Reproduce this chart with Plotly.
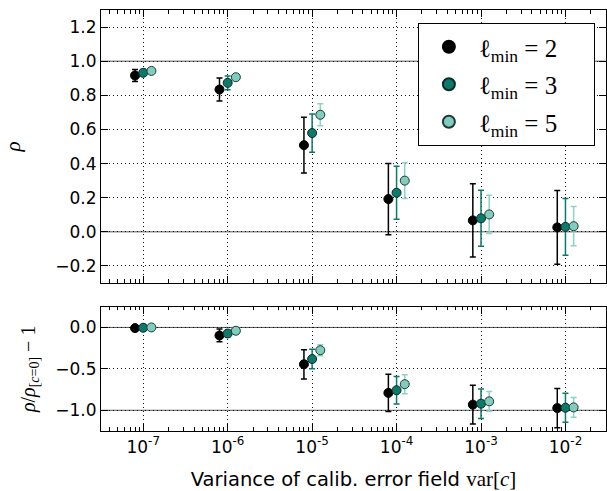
import plotly.graph_objects as go

# ---- data ----
VAR_C = [1e-7, 1e-6, 1e-5, 1e-4, 1e-3, 1e-2]
X_TICK_LABELS = ["10<sup>-7</sup>", "10<sup>-6</sup>", "10<sup>-5</sup>",
                 "10<sup>-4</sup>", "10<sup>-3</sup>", "10<sup>-2</sup>"]
SERIES_NAMES = ["ℓ<sub>min</sub> = 2", "ℓ<sub>min</sub> = 3", "ℓ<sub>min</sub> = 5"]
X_SHIFT = [0.8, 1.0, 1.25]

RHO_L2 = [0.916, 0.834, 0.508, 0.192, 0.067, 0.026]
RHO_L2_ERR = [0.035, 0.067, 0.163, 0.209, 0.215, 0.216]
RHO_L3 = [0.932, 0.873, 0.579, 0.229, 0.079, 0.029]
RHO_L3_ERR = [0.012, 0.040, 0.112, 0.156, 0.164, 0.166]
RHO_L5 = [0.943, 0.906, 0.686, 0.300, 0.102, 0.033]
RHO_L5_ERR = [0.006, 0.012, 0.064, 0.105, 0.112, 0.115]

REL_L2 = [-0.008, -0.097, -0.445, -0.790, -0.932, -0.973]
REL_L2_ERR = [0.010, 0.077, 0.176, 0.225, 0.235, 0.237]
REL_L3 = [-0.004, -0.073, -0.381, -0.758, -0.920, -0.969]
REL_L3_ERR = [0.005, 0.040, 0.118, 0.166, 0.178, 0.176]
REL_L5 = [0.000, -0.040, -0.275, -0.685, -0.892, -0.965]
REL_L5_ERR = [0.003, 0.012, 0.067, 0.115, 0.120, 0.120]

REF_TOP = [0.0, 1.0]
REF_BOTTOM = [0.0, -1.0]

FILL = ["#000000", "#0b7a6a", "#80cdbd"]
ERRC = ["#000000", "#0b7a6a", "#8dd3c3"]
EDGE = ["#000000", "#0a2a25", "#1e3a36"]

TOP = [RHO_L2, RHO_L3, RHO_L5]
TOP_ERR = [RHO_L2_ERR, RHO_L3_ERR, RHO_L5_ERR]
BOT = [REL_L2, REL_L3, REL_L5]
BOT_ERR = [REL_L2_ERR, REL_L3_ERR, REL_L5_ERR]

# minor tick positions (2..9 times each decade) inside the axis range
MINOR_X = [m * 10.0 ** e for e in range(-8, -1) for m in range(2, 10)]

fig = go.Figure()

PAD = "&nbsp;" * 5
for i in range(3):
    xs = [v * X_SHIFT[i] for v in VAR_C]
    fig.add_trace(go.Scatter(
        x=xs, y=TOP[i], mode="markers", name=SERIES_NAMES[i] + PAD,
        legendgroup="g%d" % i,
        xaxis="x", yaxis="y",
        marker=dict(size=9, color=FILL[i], line=dict(color=EDGE[i], width=1)),
        error_y=dict(type="data", array=TOP_ERR[i], color=ERRC[i], thickness=1.5, width=3),
    ))
for i in range(3):
    xs = [v * X_SHIFT[i] for v in VAR_C]
    fig.add_trace(go.Scatter(
        x=xs, y=BOT[i], mode="markers", name=SERIES_NAMES[i], showlegend=False,
        legendgroup="g%d" % i,
        xaxis="x2", yaxis="y2",
        marker=dict(size=9, color=FILL[i], line=dict(color=EDGE[i], width=1)),
        error_y=dict(type="data", array=BOT_ERR[i], color=ERRC[i], thickness=1.5, width=3),
    ))

shapes = []
for v in REF_TOP:
    shapes.append(dict(type="line", xref="x domain", yref="y", x0=0, x1=1, y0=v, y1=v,
                       line=dict(color="#555555", width=1), layer="below"))
for v in REF_BOTTOM:
    shapes.append(dict(type="line", xref="x2 domain", yref="y2", x0=0, x1=1, y0=v, y1=v,
                       line=dict(color="#555555", width=1), layer="below"))

tickfont = dict(family="DejaVu Sans", size=17, color="black")
GRID_DASH = "1px,3px"
common_x = dict(
    type="log", range=[-7.5, -1.52],
    tickmode="array", tickvals=VAR_C, ticktext=X_TICK_LABELS,
    ticks="inside", ticklen=7, tickwidth=1, tickcolor="black",
    showline=True, linecolor="black", linewidth=1.2, mirror="allticks",
    showgrid=True, gridcolor="#111111", gridwidth=1, griddash=GRID_DASH,
    minor=dict(tickmode="array", tickvals=MINOR_X, ticks="inside", ticklen=3.5,
               tickcolor="black", tickwidth=1, showgrid=False),
    zeroline=False, tickfont=tickfont,
)
common_y = dict(
    ticks="inside", ticklen=7, tickwidth=1, tickcolor="black",
    showline=True, linecolor="black", linewidth=1.2, mirror="allticks",
    showgrid=True, gridcolor="#111111", gridwidth=1, griddash=GRID_DASH,
    zeroline=False, tickfont=tickfont, tickformat=".1f",
)

fig.update_layout(
    width=607, height=491,
    margin=dict(l=101, r=1, t=10, b=60),
    paper_bgcolor="white", plot_bgcolor="white",
    showlegend=True,
    xaxis=dict(common_x, domain=[0, 1], anchor="y", showticklabels=False, matches="x2"),
    yaxis=dict(common_y, domain=[0.3515, 1], range=[-0.3, 1.3], dtick=0.2,
               title=dict(text="<i>ρ</i>", font=dict(family="Liberation Serif", size=21, color="black"),
                          standoff=28)),
    xaxis2=dict(common_x, domain=[0, 1], anchor="y2",
                title=dict(text="Variance of calib. error field <span style='font-family:Liberation Serif;font-size:21px'>var[<i>c</i>]</span>",
                           font=dict(family="DejaVu Sans", size=19.5, color="black"), standoff=20)),
    yaxis2=dict(common_y, domain=[0, 0.2952], range=[-1.25, 0.25], dtick=0.5,
                title=dict(text="<i>ρ</i>/<i>ρ</i><sub>[<i>c</i>=0]</sub> − 1",
                           font=dict(family="Liberation Serif", size=20, color="black"),
                           standoff=14)),
    legend=dict(x=0.978, xanchor="right", y=0.969, yanchor="top",
                bgcolor="white", bordercolor="black", borderwidth=1,
                font=dict(family="Liberation Serif", size=25, color="black"),
                tracegroupgap=2, itemsizing="constant", itemwidth=50),
    shapes=shapes,
)

fig.write_html("out.html")
